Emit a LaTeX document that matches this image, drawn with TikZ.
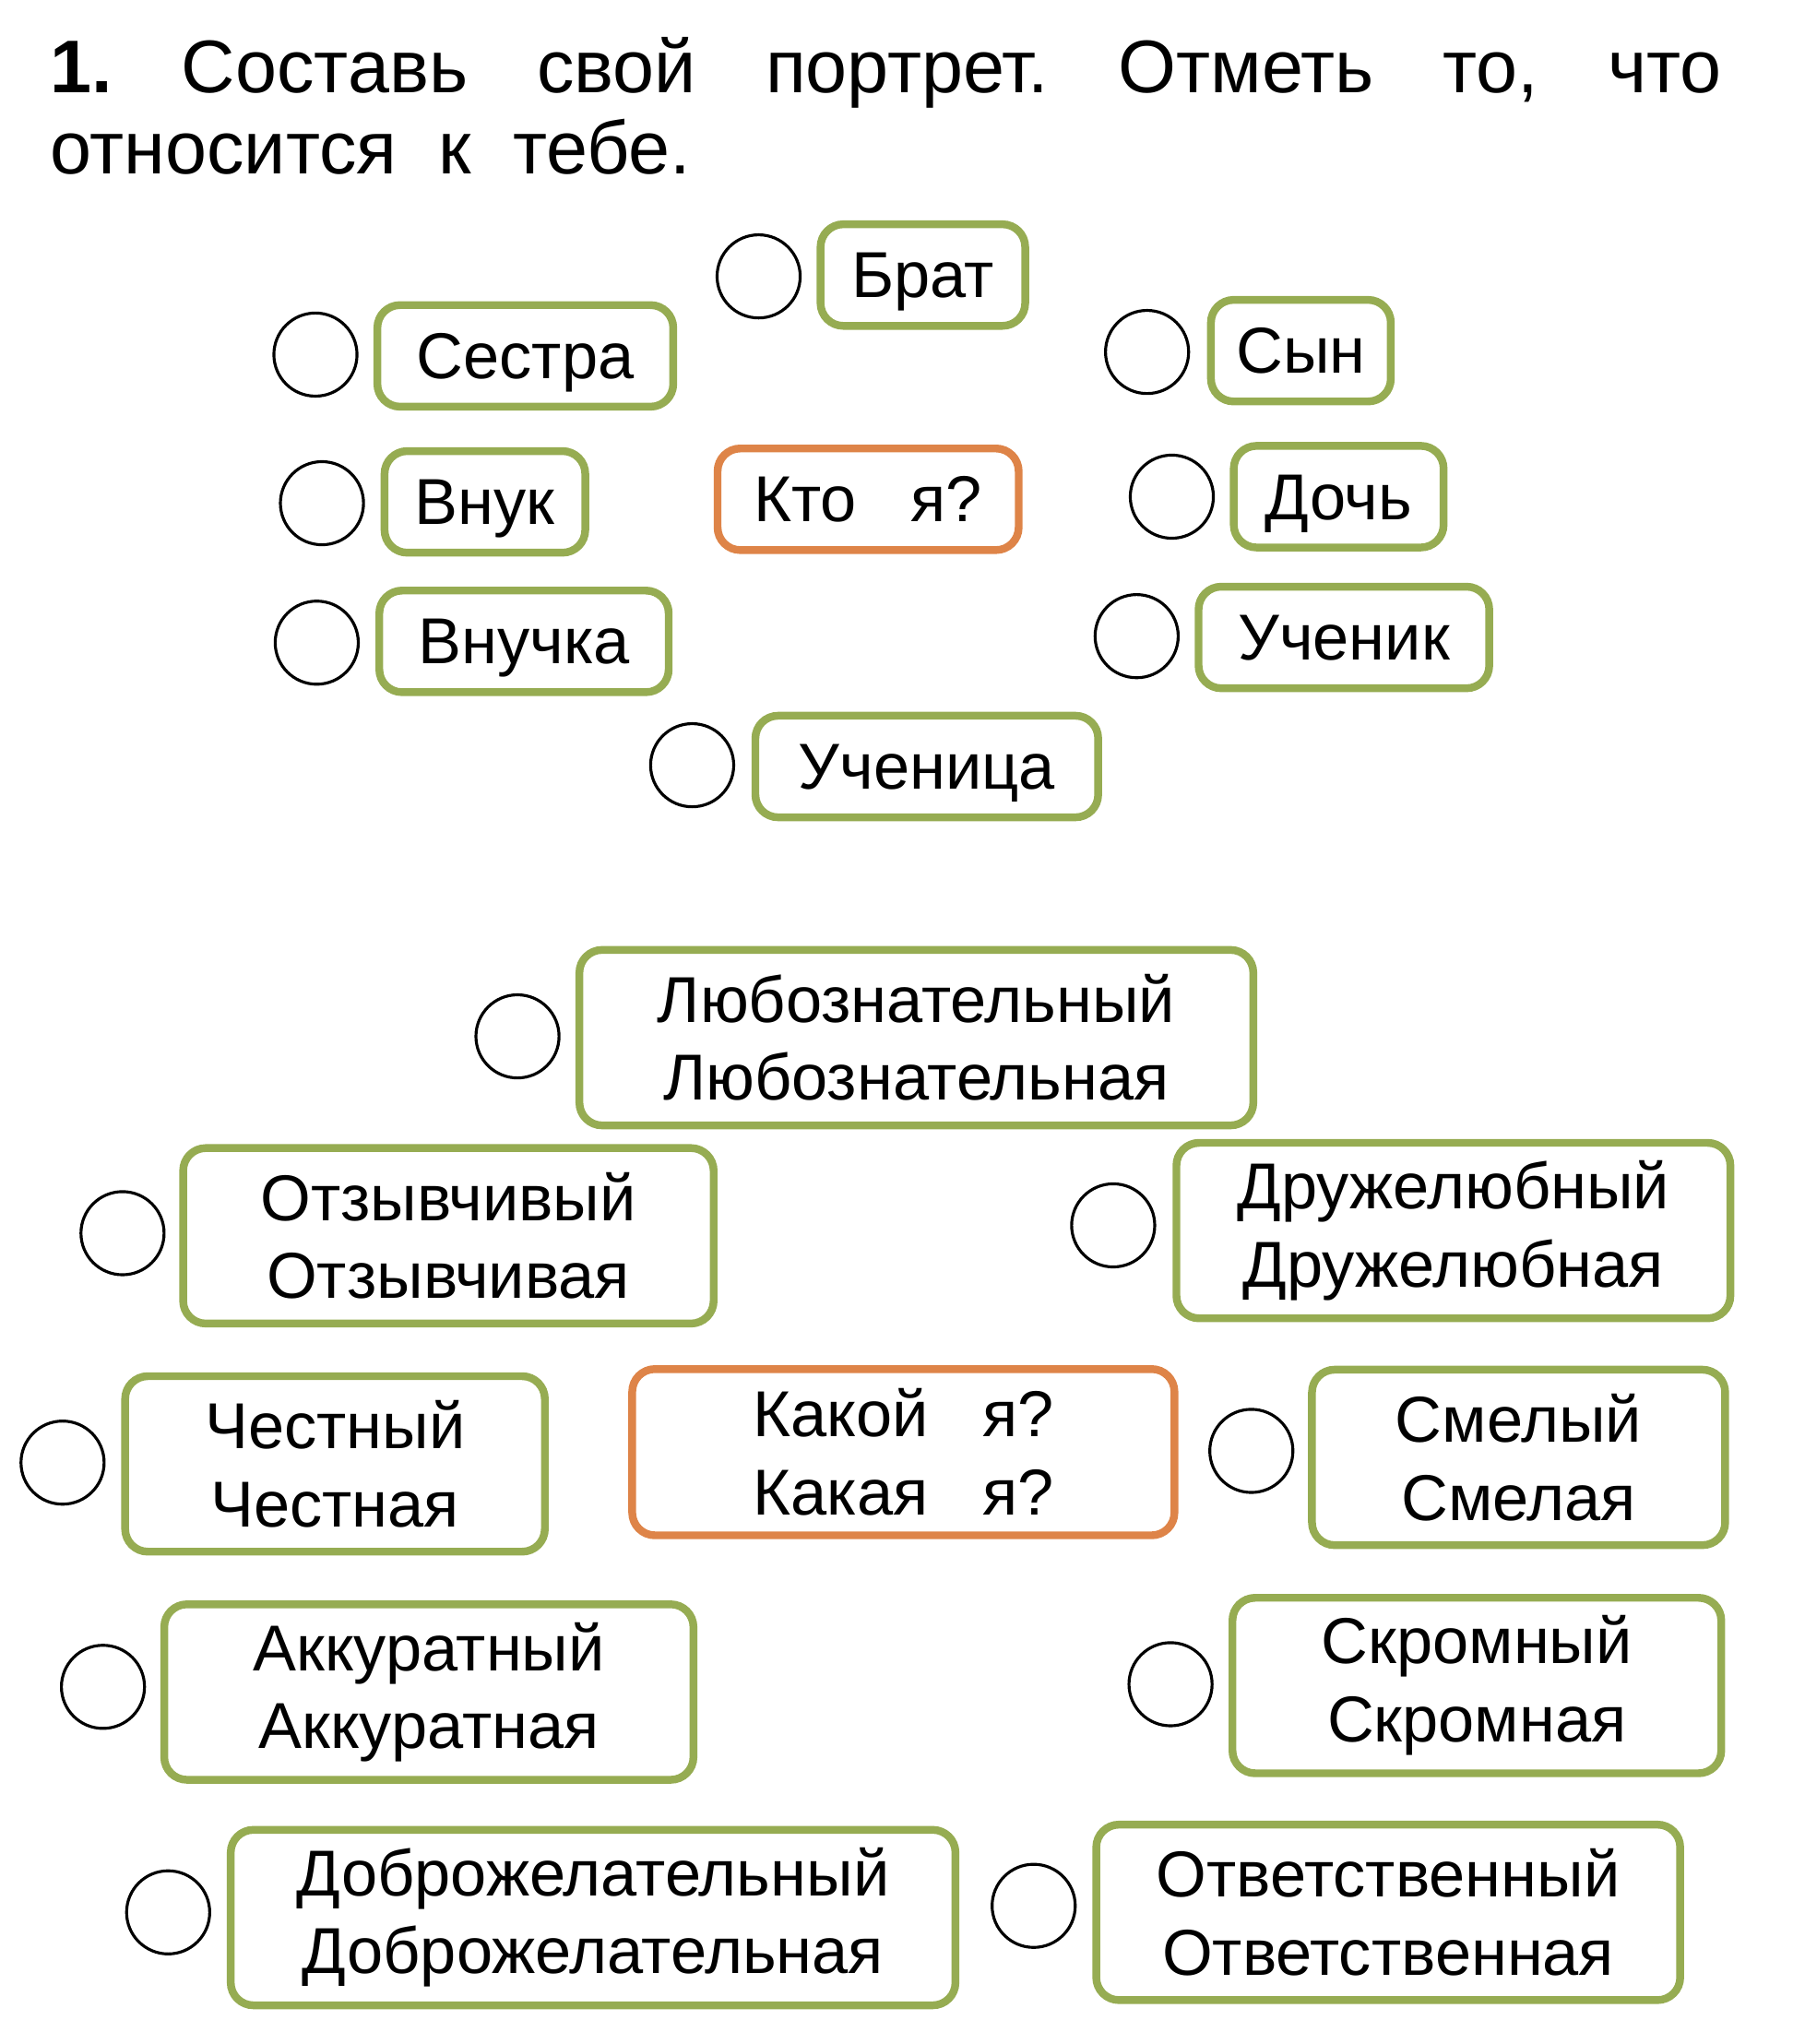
\documentclass[tikz,border=0pt]{standalone}
\usepackage{fontspec}
\setmainfont{Liberation Sans}
\definecolor{boxgreen}{RGB}{150,172,82}
\definecolor{boxorange}{RGB}{222,132,72}
\tikzset{
  word/.style={draw=boxgreen, line width=2.4pt, rounded corners=7pt, align=center,
    font=\fontsize{20}{24}\selectfont, inner sep=0pt},
  ask/.style={word, draw=boxorange},
  tick/.style={draw, circle, line width=0.9pt, minimum size=0.9cm, inner sep=0pt}
}
\begin{document}
\begin{tikzpicture}[x=0.01412cm, y=-0.01412cm]
		\useasboundingbox (0,0) rectangle (1375,1568);
		% task text
		\node[anchor=north west, text width=18.1cm, align=justify, inner sep=0pt,
		  font=\fontsize{23}{25}\selectfont] (task) at (38,28)
		  {\textbf{1.}\ \ Составь\ \ свой\ \ портрет.\ \ Отметь\ \ то,\ \ что относится\ \ к\ \ тебе.\par};
		% one-line words
		\foreach \nm/\x/\y/\w/\cx/\cy/\txt in {
		  brat/708/211/157/582/212/Брат,
		  sestra/403/273/227/242/272/Сестра,
		  syn/998/269/138/880/270/Сын,
		  vnuk/372/385/154/247/386/Внук,
		  doch/1027/381/161/899/381/Дочь,
		  vnuchka/402/492/222/243/493/Внучка,
		  uchenik/1031/489/223/872/488/Ученик,
		  uchenica/711/588/263/531/587/Ученица}
		{
			\node[word, minimum width={\w*0.01412cm}, minimum height=1.1cm,
			  text height=15pt, text depth=1pt] (\nm) at (\x,\y) {\txt};
			\node[tick] (c-\nm) at (\cx,\cy) {};
		}
		\node[ask, minimum width={231*0.01412cm}, minimum height=1.1cm,
		  text height=15pt, text depth=1pt] (kto) at (666,383) {Кто\ \ \ я?};
		% two-line words
		\foreach \nm/\x/\y/\w/\cx/\cy/\txt in {
		  lyub/703/793/517/397/795/{Любознательный\\Любознательная},
		  otz/344/945/407/94/946/{Отзывчивый\\Отзывчивая},
		  druzh/1115/941/425/854/940/{Дружелюбный\\Дружелюбная},
		  chest/257/1120/322/48/1122/{Честный\\Честная},
		  smel/1165/1115/317/960/1113/{Смелый\\Смелая},
		  akk/329/1295/406/79/1294/{Аккуратный\\Аккуратная},
		  skrom/1133/1290/375/898/1292/{Скромный\\Скромная},
		  dobr/455/1468/556/129/1467/{Доброжелательный\\Доброжелательная},
		  otv/1065/1464/448/793/1462/{Ответственный\\Ответственная}}
		{
			\node[word, minimum width={\w*0.01412cm}, minimum height=1.9cm] (\nm) at (\x,\y+3) {\txt};
			\node[tick] (c-\nm) at (\cx,\cy) {};
		}
		\node[ask, minimum width={416*0.01412cm}, minimum height=1.8cm] (kakoy) at (693,1114) {Какой\ \ \ я?\\Какая\ \ \ я?};
	\end{tikzpicture}
\end{document}
